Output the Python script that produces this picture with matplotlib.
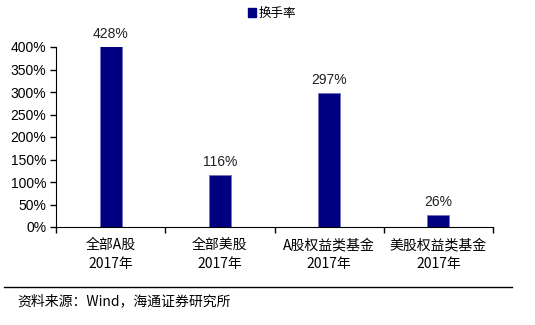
import matplotlib
matplotlib.use("Agg")
import matplotlib.pyplot as plt
from matplotlib.patches import Patch
from matplotlib.ticker import FuncFormatter

plt.rcParams['font.family'] = ['Liberation Sans', 'Noto Sans CJK SC', 'DejaVu Sans']

# ---------------------------------------------------------------------------
# Data
# ---------------------------------------------------------------------------
categories = ["全部A股\n2017年", "全部美股\n2017年", "A股权益类基金\n2017年", "美股权益类基金\n2017年"]
turnover = [428, 116, 297, 26]  # percent
series_name = "换手率"
source_text = "资料来源：Wind，海通证券研究所"

BAR_COLOR = "#000080"
Y_MAX = 400

fig = plt.figure(figsize=(5.35, 3.25), dpi=100)
ax = fig.add_axes([56 / 535, 1 - 227 / 325, (493 - 56) / 535, 180 / 325])

x = range(len(categories))
ax.bar(x, turnover, width=0.2, color=BAR_COLOR, edgecolor="#7070c0", linewidth=0.6)

# value labels (bar above the axis max is clipped, label sits just above the top)
for xi, v in zip(x, turnover):
    ax.text(xi, min(v, Y_MAX) + 14, f"{v}%", ha="center", va="bottom",
            fontsize=10, color="#222222", clip_on=False)

ax.set_xlim(-0.5, len(categories) - 0.5)
ax.set_ylim(0, Y_MAX)
ax.set_yticks(range(0, Y_MAX + 1, 50))
ax.yaxis.set_major_formatter(FuncFormatter(lambda v, _: f"{int(v)}%"))
ax.tick_params(axis="y", labelsize=10, length=4, width=1, direction="out", pad=3)

# category labels centred, tick marks at category boundaries
ax.set_xticks([i + 0.5 for i in range(-1, len(categories))])
ax.set_xticklabels([])
ax.tick_params(axis="x", length=4, width=1, direction="out")
for xi, lab in zip(x, categories):
    ax.text(xi, -25, lab, ha="center", va="top", fontsize=10, linespacing=1.45,
            family=['Noto Sans CJK SC', 'DejaVu Sans'])

ax.spines["top"].set_visible(False)
ax.spines["right"].set_visible(False)

fig.legend(handles=[Patch(color=BAR_COLOR)], labels=[series_name], loc="center",
           bbox_to_anchor=(272 / 535, 1 - 13 / 325), frameon=False,
           handlelength=0.7, handleheight=0.7, handletextpad=0.2,
           prop={'family': ['Noto Sans CJK SC', 'DejaVu Sans'], 'size': 9})

# footer rule and source
fig.add_artist(plt.Line2D([4 / 535, 512 / 535], [1 - 287 / 325, 1 - 287 / 325],
                          color="black", linewidth=1))
fig.text(17 / 535, 1 - 301 / 325, source_text, ha="left", va="center", fontsize=10,
         family=['Noto Sans CJK SC', 'DejaVu Sans'])

fig.savefig("out.png", dpi=100)
